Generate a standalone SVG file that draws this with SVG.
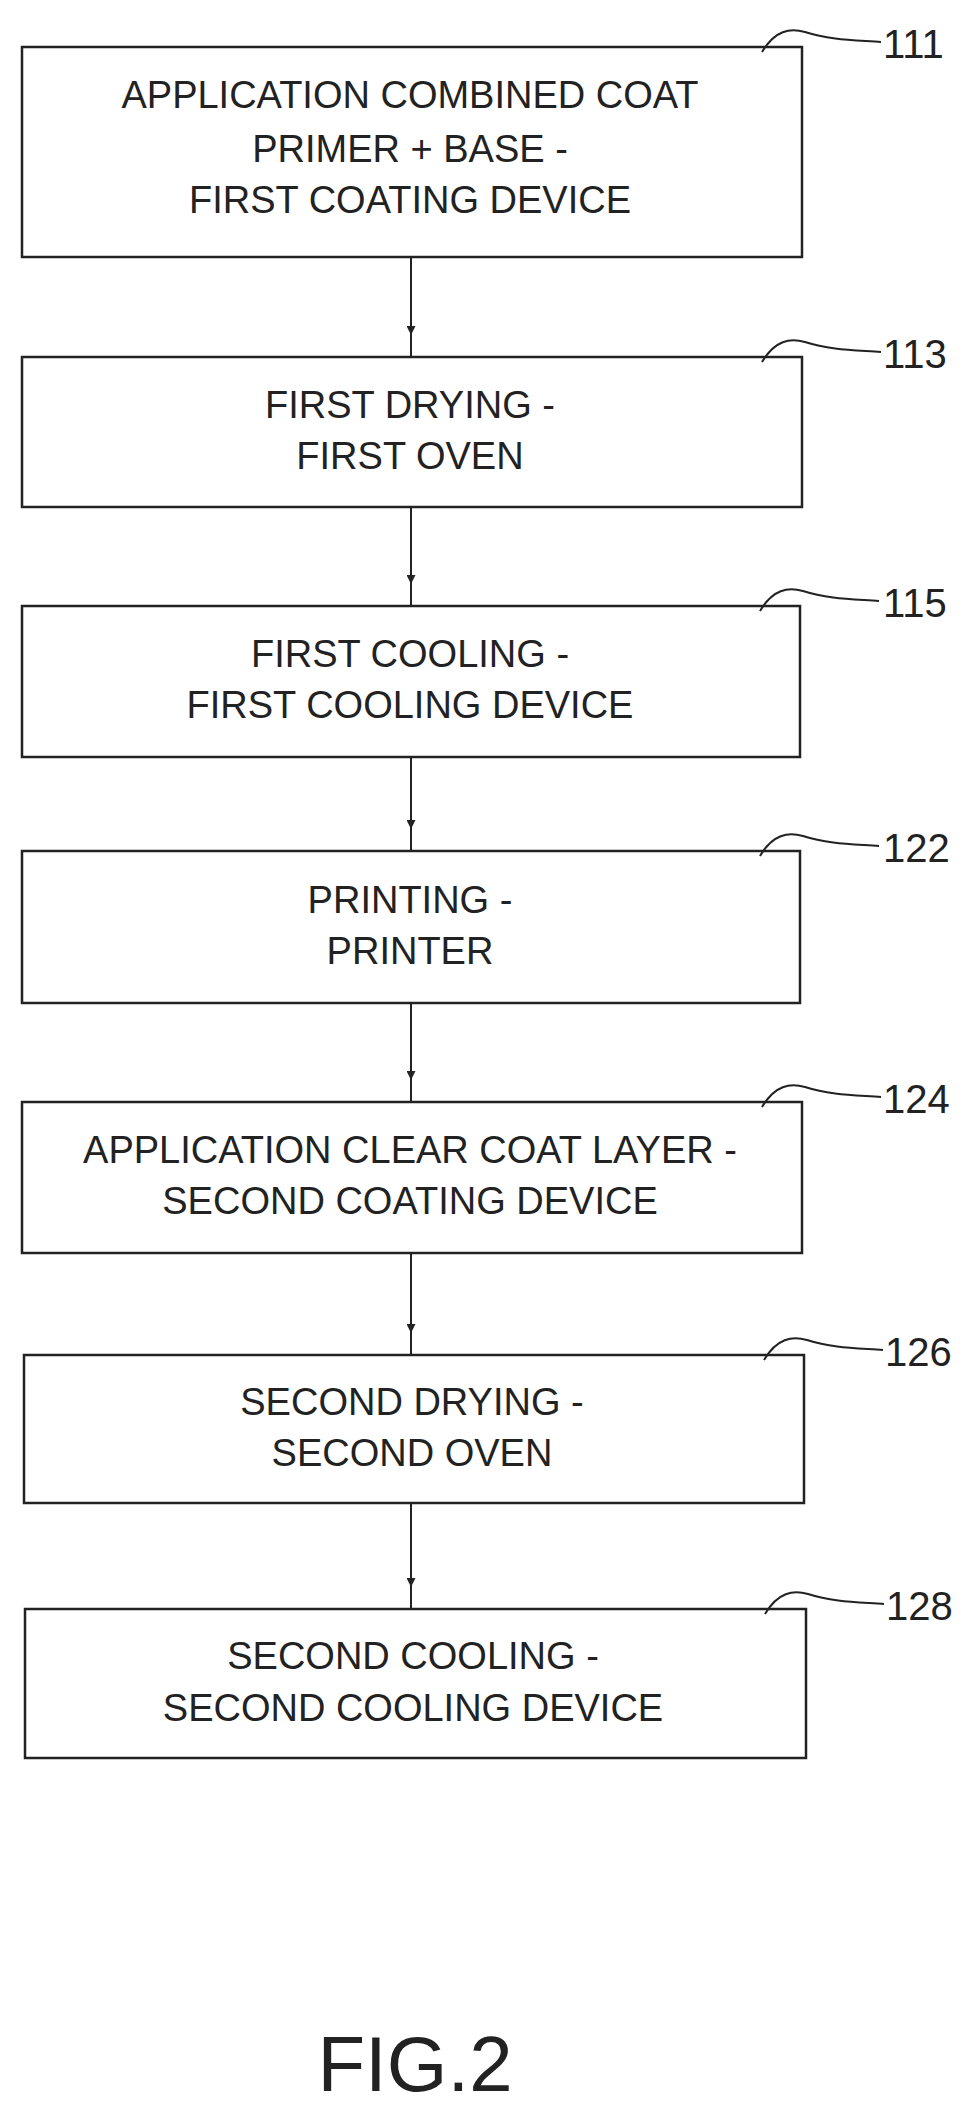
<svg xmlns="http://www.w3.org/2000/svg" width="970" height="2111" viewBox="0 0 970 2111">
<style>
.box{fill:#fff;stroke:#222;stroke-width:2.5}
.t{font-family:"Liberation Sans",Arial,sans-serif;font-size:38px;fill:#222;text-anchor:middle}
.n{font-family:"Liberation Sans",Arial,sans-serif;font-size:40px;fill:#222}
.lead{fill:none;stroke:#222;stroke-width:2}
.c{stroke:#222;stroke-width:2;fill:none}
</style>
<defs><marker id="a" viewBox="0 0 10 10" refX="10" refY="5" markerWidth="16" markerHeight="9" orient="auto" markerUnits="userSpaceOnUse"><path d="M0,0 L10,5 L0,10 Z" fill="#222"/></marker></defs>
<rect width="970" height="2111" fill="#fff"/>
<g id="connectors">
<path class="c" d="M411 257 V335" marker-end="url(#a)"/><path class="c" d="M411 335 V357"/>
<path class="c" d="M411 507 V584" marker-end="url(#a)"/><path class="c" d="M411 584 V606"/>
<path class="c" d="M411 757 V829" marker-end="url(#a)"/><path class="c" d="M411 829 V851"/>
<path class="c" d="M411 1003 V1080" marker-end="url(#a)"/><path class="c" d="M411 1080 V1102"/>
<path class="c" d="M411 1253 V1333" marker-end="url(#a)"/><path class="c" d="M411 1333 V1355"/>
<path class="c" d="M411 1503 V1587" marker-end="url(#a)"/><path class="c" d="M411 1587 V1609"/>
</g>
<g id="n111"><rect class="box" x="22" y="47" width="780" height="210"/>
<text class="t" x="410" y="108">APPLICATION COMBINED COAT</text><text class="t" x="410" y="162">PRIMER + BASE -</text><text class="t" x="410" y="213">FIRST COATING DEVICE</text>
<path class="lead" d="M762 52 C775 30 790 28 805 32 C830 40 855 40 881 42"/><text class="n" x="883" y="58">111</text></g>
<g id="n113"><rect class="box" x="22" y="357" width="780" height="150"/>
<text class="t" x="410" y="418">FIRST DRYING -</text><text class="t" x="410" y="469">FIRST OVEN</text>
<path class="lead" d="M762 362 C775 340 790 338 805 342 C830 350 855 350 881 352"/><text class="n" x="883" y="368">113</text></g>
<g id="n115"><rect class="box" x="22" y="606" width="778" height="151"/>
<text class="t" x="410" y="667">FIRST COOLING -</text><text class="t" x="410" y="718">FIRST COOLING DEVICE</text>
<path class="lead" d="M760 611 C773 589 788 587 803 591 C828 599 853 599 879 601"/><text class="n" x="883" y="617">115</text></g>
<g id="n122"><rect class="box" x="22" y="851" width="778" height="152"/>
<text class="t" x="410" y="913">PRINTING -</text><text class="t" x="410" y="964">PRINTER</text>
<path class="lead" d="M760 856 C773 834 788 832 803 836 C828 844 853 844 879 846"/><text class="n" x="883" y="862">122</text></g>
<g id="n124"><rect class="box" x="22" y="1102" width="780" height="151"/>
<text class="t" x="410" y="1163">APPLICATION CLEAR COAT LAYER -</text><text class="t" x="410" y="1214">SECOND COATING DEVICE</text>
<path class="lead" d="M762 1107 C775 1085 790 1083 805 1087 C830 1095 855 1095 881 1097"/><text class="n" x="883" y="1113">124</text></g>
<g id="n126"><rect class="box" x="24" y="1355" width="780" height="148"/>
<text class="t" x="412" y="1415">SECOND DRYING -</text><text class="t" x="412" y="1466">SECOND OVEN</text>
<path class="lead" d="M764 1360 C777 1338 792 1336 807 1340 C832 1348 857 1348 883 1350"/><text class="n" x="885" y="1366">126</text></g>
<g id="n128"><rect class="box" x="25" y="1609" width="781" height="149"/>
<text class="t" x="413" y="1669">SECOND COOLING -</text><text class="t" x="413" y="1721">SECOND COOLING DEVICE</text>
<path class="lead" d="M765 1614 C778 1592 793 1590 808 1594 C833 1602 858 1602 884 1604"/><text class="n" x="886" y="1620">128</text></g>
<text x="415" y="2091" style="font-family:'Liberation Sans',Arial,sans-serif;font-size:78px;fill:#222;text-anchor:middle">FIG.2</text>
</svg>
